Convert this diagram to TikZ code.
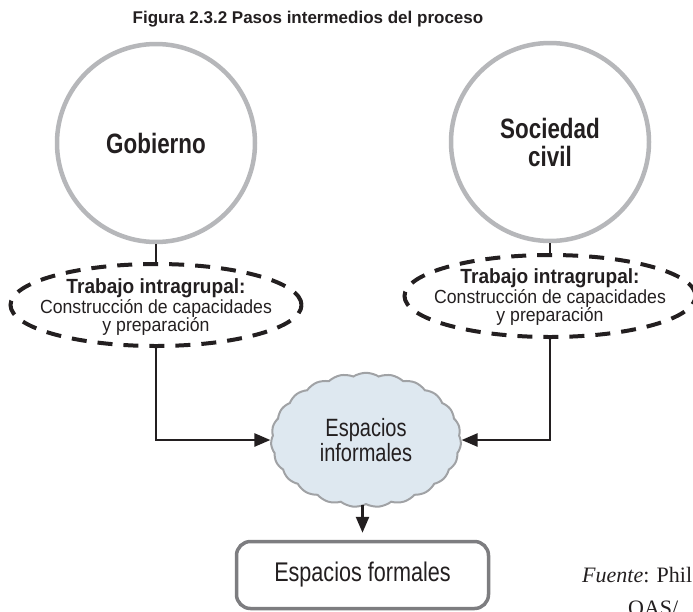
\documentclass[tikz,border=0pt]{standalone}
\usepackage{fontspec}
\setmainfont{Liberation Sans}
\newfontfamily\condfont[FakeStretch=0.8]{Liberation Sans}
\newfontfamily\semicond[FakeStretch=0.93]{Liberation Sans}
\newfontfamily\seriffont{Liberation Serif}
\usetikzlibrary{shapes.geometric,shapes.symbols,arrows.meta}
\definecolor{circgray}{RGB}{182,183,186}
\definecolor{boxgray}{RGB}{125,125,128}
\definecolor{cloudgray}{RGB}{160,162,165}
\definecolor{cloudblue}{RGB}{222,232,240}
\definecolor{inkblack}{RGB}{35,31,32}
\begin{document}
\begin{tikzpicture}[x=1pt,y=-1pt,
  circ/.style={circle, draw=circgray, line width=4.5pt, minimum size=198pt, inner sep=0pt,
    align=center, text=inkblack, font=\condfont\bfseries\fontsize{28}{28}\selectfont},
  dashell/.style={ellipse, draw=inkblack, line width=4pt, dash pattern=on 15pt off 11pt,
    minimum width=291pt, minimum height=82pt, inner sep=0pt},
  ellbold/.style={anchor=base, inner sep=0pt, text=inkblack,
    font=\semicond\bfseries\fontsize{20.5}{22}\selectfont},
  ellreg/.style={anchor=base, inner sep=0pt, text=inkblack,
    font=\semicond\fontsize{19}{22}\selectfont},
  cloudnode/.style={cloud, cloud puffs=23, cloud puff arc=65, draw=cloudgray, fill=cloudblue,
    line width=2pt, minimum width=190pt, minimum height=103pt, inner sep=0pt, align=center,
    text=inkblack, font=\condfont\fontsize{25}{22}\selectfont},
  formalbox/.style={rectangle, rounded corners=14pt, draw=boxgray, line width=3.5pt,
    minimum width=252pt, minimum height=67pt, inner sep=0pt, text=inkblack,
    font=\condfont\fontsize{27}{27}\selectfont},
  conn/.style={draw=inkblack, line width=2.5pt, -{Triangle[length=16pt,width=13pt]}},
  plainline/.style={draw=inkblack, line width=2.5pt},
  srcnote/.style={anchor=base west, inner sep=0pt, text=inkblack,
    font=\seriffont\fontsize{22}{24}\selectfont}
]
\useasboundingbox (0,0) rectangle (693,611);
\clip (0,0) rectangle (693,611);

\node[font=\bfseries\fontsize{17}{20}\selectfont, text=inkblack] (title) at (308,19)
  {Figura 2.3.2 Pasos intermedios del proceso};

\node[circ] (gob) at (156,143) {Gobierno};
\node[circ] (soc) at (550,142) {Sociedad\\civil};

\node[dashell] (le) at (156,305) {};
\node[ellbold] (le1) at (156,293) {Trabajo intragrupal:};
\node[ellreg] (le2) at (156,313) {Construcción de capacidades};
\node[ellreg] (le3) at (156,331) {y preparación};

\node[dashell] (re) at (550,296) {};
\node[ellbold] (re1) at (550,283) {Trabajo intragrupal:};
\node[ellreg] (re2) at (550,303) {Construcción de capacidades};
\node[ellreg] (re3) at (550,321) {y preparación};

\node[cloudnode] (cl) at (366,440) {Espacios\\informales};

\node[formalbox] (fb) at (362.5,575) {Espacios formales};

\path[plainline] (gob.south) -- (le.north);
\path[plainline] (soc.south) -- (re.north);
\path[conn] (le.south) |- (cl.west);
\path[conn] (re.south) |- (cl.east);
\path[conn, shorten >=7pt] (cl.south -| fb.north) -- (fb.north);

\node[srcnote] (fuente) at (582,582) {\textit{Fuente}: Phil};
\node[srcnote] (oas) at (628,615) {OAS/};
\end{tikzpicture}
\end{document}
